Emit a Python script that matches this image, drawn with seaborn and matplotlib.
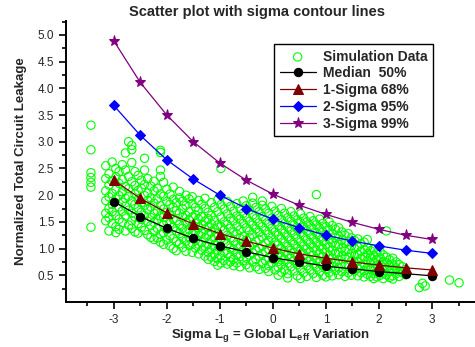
import numpy as np
import pandas as pd
import matplotlib
matplotlib.use("Agg")
import matplotlib.pyplot as plt
import seaborn as sns

# sigma contour points
sigma = [-3, -2.5, -2, -1.5, -1, -0.5, 0, 0.5, 1, 1.5, 2, 2.5, 3]
median50 = [1.88, 1.60, 1.38, 1.19, 1.05, 0.94, 0.83, 0.75, 0.67, 0.62, 0.57, 0.53, 0.49]
sigma1_68 = [2.28, 1.94, 1.67, 1.46, 1.28, 1.14, 1.01, 0.90, 0.82, 0.75, 0.69, 0.64, 0.60]
sigma2_95 = [3.68, 3.12, 2.66, 2.30, 2.00, 1.75, 1.55, 1.39, 1.25, 1.14, 1.05, 0.97, 0.91]
sigma3_99 = [4.89, 4.11, 3.50, 3.00, 2.60, 2.28, 2.02, 1.81, 1.64, 1.49, 1.36, 1.25, 1.17]

# simulation cloud, read column by column (x: list of y)
sim_columns = {
    -3.43: [3.31, 2.85, 2.42, 2.33, 2.24, 2.15, 1.40],
    -3.15: [2.55, 2.31, 2.08, 1.90, 1.66, 1.52],
    -3.09: [2.40, 2.19, 1.97, 1.75, 1.58, 1.33],
    -3.03: [2.62, 2.27, 2.03, 1.83, 1.69, 1.47],
    -2.96: [2.50, 2.34, 2.11, 1.93, 1.62, 1.41, 1.30],
    -2.90: [2.44, 2.22, 1.99, 1.78, 1.55, 1.36],
    -2.84: [2.57, 2.29, 2.06, 1.87, 1.70, 1.49],
    -2.78: [2.79, 2.47, 2.16, 1.94, 1.79, 1.61, 1.33],
    -2.72: [3.00, 2.35, 2.12, 1.98, 1.72, 1.44],
    -2.66: [2.93, 2.85, 2.61, 2.25, 1.89, 1.66, 1.52, 1.38],
    -2.60: [2.44, 2.18, 2.02, 1.83, 1.59, 1.31],
    -2.54: [2.37, 2.09, 1.92, 1.76, 1.47, 1.29],
    -2.48: [2.28, 2.13, 1.86, 1.68, 1.55, 1.40],
    -2.42: [2.69, 2.47, 2.20, 1.99, 1.81, 1.62, 1.34],
    -2.36: [2.31, 2.04, 1.90, 1.73, 1.51, 1.26],
    -2.30: [2.17, 1.95, 1.78, 1.58, 1.43, 1.21],
    -2.24: [2.26, 2.08, 1.85, 1.66, 1.49, 1.32, 1.17],
    -2.18: [2.13, 1.93, 1.71, 1.55, 1.38, 1.20],
    -2.12: [2.84, 2.80, 2.47, 2.35, 2.02, 1.80, 1.61, 1.27, 1.12],
    -2.06: [2.24, 1.98, 1.74, 1.59, 1.44, 1.30, 1.08],
    -2.00: [2.11, 1.88, 1.68, 1.50, 1.35, 1.16],
    -1.94: [2.02, 1.83, 1.64, 1.47, 1.24, 1.05],
    -1.88: [2.15, 1.92, 1.77, 1.56, 1.40, 1.19, 1.00],
    -1.82: [1.86, 1.71, 1.52, 1.33, 1.13, 0.96],
    -1.76: [2.07, 1.95, 1.66, 1.45, 1.28, 1.09],
    -1.70: [1.89, 1.74, 1.58, 1.38, 1.20, 1.02],
    -1.64: [2.00, 1.81, 1.62, 1.49, 1.31, 1.14, 0.95],
    -1.58: [1.93, 1.69, 1.53, 1.36, 1.22, 1.06],
    -1.52: [1.97, 1.84, 1.59, 1.43, 1.27, 1.10, 0.93],
    -1.46: [1.77, 1.63, 1.47, 1.32, 1.16, 1.01],
    -1.40: [1.90, 1.71, 1.55, 1.39, 1.25, 1.08, 0.90],
    -1.34: [1.83, 1.60, 1.44, 1.29, 1.12, 0.97],
    -1.28: [1.94, 1.75, 1.51, 1.36, 1.20, 1.04, 0.86],
    -1.22: [1.68, 1.56, 1.40, 1.26, 1.09, 0.93, 0.80],
    -1.16: [1.86, 1.62, 1.46, 1.31, 1.17, 1.00, 0.84],
    -1.10: [1.77, 1.53, 1.37, 1.22, 1.06, 0.90, 0.76],
    -1.04: [1.91, 1.69, 1.44, 1.28, 1.13, 0.97, 0.81, 0.69],
    -0.98: [2.50, 1.82, 1.59, 1.41, 1.19, 1.03, 0.87, 0.73],
    -0.92: [1.74, 1.50, 1.34, 1.16, 0.95, 0.78],
    -0.86: [1.88, 1.65, 1.45, 1.25, 1.09, 0.91, 0.71],
    -0.80: [1.79, 1.57, 1.38, 1.20, 1.01, 0.84, 0.75],
    -0.74: [1.70, 1.52, 1.31, 1.14, 0.98, 0.80, 0.68],
    -0.68: [1.84, 1.61, 1.42, 1.27, 1.07, 0.89, 0.73],
    -0.62: [1.75, 1.55, 1.35, 1.19, 1.02, 0.85, 0.66],
    -0.56: [1.89, 1.66, 1.47, 1.23, 1.11, 0.94, 0.77],
    -0.50: [1.80, 1.58, 1.39, 1.16, 0.99, 0.82, 0.70],
    -0.44: [1.72, 1.51, 1.33, 1.21, 1.04, 0.88, 0.64],
    -0.38: [1.96, 1.85, 1.63, 1.44, 1.26, 1.08, 0.92, 0.75],
    -0.32: [1.77, 1.56, 1.37, 1.13, 0.97, 0.80, 0.66],
    -0.26: [1.69, 1.48, 1.30, 1.17, 1.01, 0.86, 0.61],
    -0.20: [1.89, 1.81, 1.60, 1.41, 1.22, 1.05, 0.90, 0.72],
    -0.14: [1.74, 1.53, 1.34, 1.10, 0.94, 0.78, 0.63],
    -0.08: [1.66, 1.46, 1.27, 1.15, 0.99, 0.83, 0.68, 0.57],
    -0.02: [1.79, 1.57, 1.38, 1.20, 1.03, 0.87, 0.74],
    0.04: [1.70, 1.50, 1.31, 1.12, 0.95, 0.79, 0.60],
    0.10: [1.62, 1.43, 1.25, 1.07, 0.91, 0.76, 0.65, 0.50],
    0.16: [1.75, 1.54, 1.36, 1.18, 1.00, 0.84, 0.70, 0.56],
    0.22: [1.66, 1.47, 1.29, 1.11, 0.94, 0.79, 0.61],
    0.28: [1.58, 1.40, 1.22, 1.04, 0.88, 0.73, 0.53, 0.45],
    0.34: [1.69, 1.51, 1.33, 1.15, 0.97, 0.82, 0.66],
    0.40: [1.61, 1.44, 1.26, 1.08, 0.92, 0.77, 0.58],
    0.46: [1.54, 1.37, 1.19, 1.01, 0.85, 0.70, 0.49],
    0.52: [1.65, 1.48, 1.30, 1.12, 0.95, 0.80, 0.63, 0.44],
    0.58: [1.57, 1.40, 1.23, 1.05, 0.89, 0.74, 0.55],
    0.64: [1.50, 1.33, 1.16, 0.99, 0.83, 0.68, 0.48],
    0.70: [1.60, 1.43, 1.26, 1.09, 0.93, 0.77, 0.60],
    0.76: [1.52, 1.36, 1.19, 1.02, 0.87, 0.71, 0.53],
    0.82: [2.01, 1.45, 1.29, 1.12, 0.96, 0.80, 0.65, 0.46],
    0.88: [1.55, 1.38, 1.22, 1.05, 0.90, 0.74, 0.57],
    0.94: [1.47, 1.31, 1.15, 0.99, 0.84, 0.68, 0.50],
    1.00: [1.41, 1.25, 1.08, 0.93, 0.78, 0.62, 0.47],
    1.06: [1.50, 1.34, 1.18, 1.02, 0.87, 0.72, 0.55],
    1.12: [1.43, 1.27, 1.11, 0.96, 0.81, 0.66, 0.49],
    1.18: [1.36, 1.20, 1.05, 0.90, 0.75, 0.59],
    1.24: [1.39, 1.23, 1.08, 0.93, 0.79, 0.64, 0.51],
    1.30: [1.31, 1.16, 1.01, 0.86, 0.72, 0.57],
    1.36: [1.25, 1.10, 0.95, 0.81, 0.67, 0.48],
    1.42: [1.28, 1.13, 0.98, 0.84, 0.70, 0.55],
    1.48: [1.20, 1.05, 0.91, 0.77, 0.62, 0.50],
    1.54: [1.15, 1.00, 0.86, 0.73, 0.58],
    1.60: [1.18, 1.03, 0.89, 0.76, 0.63, 0.49],
    1.66: [1.09, 0.95, 0.82, 0.69, 0.55],
    1.72: [1.12, 0.98, 0.84, 0.71, 0.59, 0.47],
    1.78: [1.17, 1.02, 0.90, 0.78, 0.65, 0.52],
    1.84: [0.96, 0.84, 0.73, 0.61, 0.48],
    1.90: [0.99, 0.87, 0.75, 0.64, 0.53, 0.44],
    1.96: [0.92, 0.80, 0.69, 0.57, 0.47],
    2.02: [0.95, 0.83, 0.71, 0.60, 0.50],
    2.08: [0.88, 0.76, 0.65, 0.54, 0.44],
    2.14: [1.33, 0.84, 0.73, 0.62, 0.51],
    2.20: [0.79, 0.68, 0.57, 0.46],
    2.26: [0.82, 0.71, 0.60, 0.49, 0.43],
    2.32: [0.75, 0.64, 0.53],
    2.38: [0.70, 0.58, 0.48],
    2.44: [0.66, 0.55],
    2.50: [0.61, 0.51],
    2.76: [0.27],
    2.82: [0.35],
    2.87: [0.30],
    3.33: [0.41],
    3.51: [0.36],
}

sim_x = []
sim_y = []
for xv, ys in sim_columns.items():
    for yv in ys:
        sim_x.append(xv)
        sim_y.append(yv)
sim = pd.DataFrame({"x": sim_x, "y": sim_y})

sns.set_style("ticks")
plt.rcParams["font.family"] = ["Liberation Sans", "DejaVu Sans"]
plt.rcParams["mathtext.fontset"] = "custom"
plt.rcParams["mathtext.rm"] = "Liberation Sans"
plt.rcParams["mathtext.bf"] = "Liberation Sans:bold"

fig = plt.figure(figsize=(4.75, 3.47), dpi=100)
ax = fig.add_axes([66 / 475, 45 / 347, 409 / 475, 281 / 347])

sns.scatterplot(data=sim, x="x", y="y", ax=ax, marker="o", s=36,
                facecolor="none", edgecolor="#00ff00", linewidth=0.8,
                label="Simulation Data")

series = [
    (median50, "Median  50%", "black", "o", 6),
    (sigma1_68, "1-Sigma 68%", "#800000", "^", 7),
    (sigma2_95, "2-Sigma 95%", "#0000ff", "D", 5.5),
    (sigma3_99, "3-Sigma 99%", "#800080", "*", 8),
]
for vals, name, col, mk, ms in series:
    sns.lineplot(x=sigma, y=vals, ax=ax, color=col, marker=mk, markersize=ms,
                 markeredgecolor=col, linewidth=0.9, label=name)

ax.set_xlim(-3.9, 3.81)
ax.set_ylim(0, 5.26)
ax.set_xticks([-3, -2, -1, 0, 1, 2, 3])
ax.set_xticks(np.arange(-3.5, 4, 1.0), minor=True)
ax.set_yticks(np.arange(0.5, 5.01, 0.5))
ax.set_yticks(np.arange(0.25, 5.3, 0.5), minor=True)
ax.set_yticklabels([f"{v:.1f}" for v in np.arange(0.5, 5.01, 0.5)])
ax.set_xticklabels(["-3", "-2", "-1", "0", "1", "2", "3"])
ax.tick_params(axis="both", which="major", length=5, width=1.2, labelsize=8.5, color="black")
ax.tick_params(axis="both", which="minor", length=3, width=1.2, color="black")
sns.despine(ax=ax)
for sp in ["left", "bottom"]:
    ax.spines[sp].set_linewidth(1.4)
    ax.spines[sp].set_color("black")

ax.set_xlabel(r"Sigma L$_\mathbf{g}$ = Global L$_\mathbf{eff}$ Variation",
              fontsize=9.5, fontweight="bold")
ax.xaxis.set_label_coords(0.5, -0.09)
ax.set_ylabel("Normalized Total Circuit Leakage", fontsize=9.5, fontweight="bold", labelpad=8)
fig.text(257 / 475, 1 - 12 / 347, "Scatter plot with sigma contour lines",
         ha="center", va="center", fontsize=10.5, fontweight="bold")

leg = ax.legend(loc="upper left", bbox_to_anchor=(274 / 475, 1 - 44 / 347),
                bbox_transform=fig.transFigure, frameon=True, fancybox=False,
                edgecolor="black", framealpha=1, handlelength=2.6,
                borderpad=0.4, borderaxespad=0, labelspacing=0.2, handletextpad=0.5,
                prop={"weight": "bold", "size": 10})
leg.get_frame().set_linewidth(1.0)

fig.savefig("out.png", dpi=100)
